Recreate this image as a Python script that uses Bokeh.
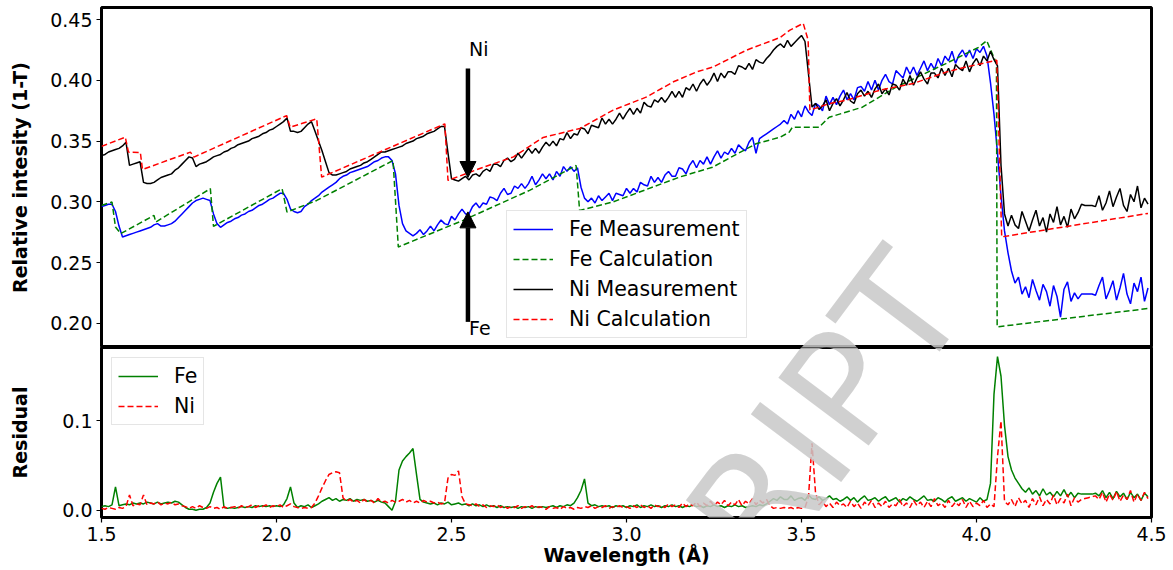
import numpy as np
from bokeh.plotting import figure
from bokeh.layouts import column
from bokeh.models import (Range1d, FixedTicker, PrintfTickFormatter, Legend,
                          LegendItem, Arrow, NormalHead, Label)
from bokeh.embed import file_html
from bokeh.resources import INLINE

# ---------------- data ----------------
# wavelength sampling of the measured spectra (Angstrom)
WL_START = 1.50
WL_STEP = 0.01
N_POINTS = 300
wavelength = np.round(WL_START + WL_STEP * np.arange(N_POINTS), 2)

# measured relative intensity (1-T), in units of 0.001, one row per 0.1 A
NI_MEAS_MILLI = [
    338, 339, 341, 342, 343, 344, 346, 349, 330, 331,
    332, 333, 316, 315, 315, 316, 318, 320, 321, 322,
    323, 326, 328, 331, 334, 337, 336, 329, 331, 332,
    333, 335, 337, 338, 339, 341, 342, 344, 345, 347,
    348, 349, 350, 352, 353, 354, 356, 357, 359, 360,
    362, 364, 366, 369, 358, 358, 357, 358, 361, 364,
    366, 358, 350, 342, 333, 324, 322, 322, 323, 324,
    325, 327, 328, 329, 330, 332, 333, 335, 337, 339,
    341, 341, 342, 343, 344, 345, 346, 348, 349, 350,
    352, 353, 354, 356, 357, 358, 360, 362, 362, 340,
    319, 318, 317, 319, 321, 318, 322, 323, 321, 325,
    327, 325, 331, 331, 329, 334, 336, 333, 335, 340,
    336, 340, 344, 340, 344, 340, 345, 349, 346, 350,
    346, 352, 351, 357, 352, 356, 355, 361, 360, 356,
    363, 362, 361, 369, 364, 368, 364, 368, 373, 368,
    373, 377, 372, 377, 373, 382, 379, 378, 384, 382,
    386, 382, 386, 391, 386, 391, 386, 394, 392, 397,
    391, 397, 401, 396, 400, 406, 399, 406, 402, 407,
    407, 405, 412, 411, 409, 414, 409, 417, 415, 414,
    418, 421, 425, 428, 430, 427, 433, 428, 431, 434,
    437, 432, 405, 378, 381, 376, 379, 384, 375, 381,
    385, 379, 384, 390, 383, 381, 389, 392, 387, 391,
    386, 393, 397, 389, 393, 388, 397, 396, 392, 401,
    396, 404, 396, 402, 407, 401, 397, 406, 406, 402,
    410, 404, 410, 403, 413, 410, 408, 416, 407, 414,
    418, 412, 420, 416, 424, 417, 412, 330, 290, 280,
    289, 281, 278, 292, 284, 276, 285, 293, 280, 287,
    275, 290, 283, 296, 281, 288, 279, 294, 286, 291,
    298, 297, 297, 297, 296, 305, 293, 299, 309, 296,
    304, 311, 297, 292, 306, 300, 313, 295, 303, 298,
]
FE_MEAS_MILLI = [
    296, 297, 298, 298, 292, 280, 271, 272, 273, 274,
    275, 276, 277, 278, 279, 281, 282, 280, 280, 281,
    282, 284, 287, 290, 293, 296, 299, 301, 302, 303,
    302, 301, 290, 282, 279, 281, 283, 284, 286, 287,
    289, 290, 292, 293, 295, 297, 298, 300, 302, 303,
    305, 307, 307, 302, 294, 292, 291, 292, 296, 298,
    301, 303, 305, 308, 310, 312, 314, 316, 319, 321,
    322, 324, 325, 326, 327, 328, 329, 331, 333, 334,
    336, 337, 337, 334, 323, 297, 282, 276, 274, 272,
    274, 277, 273, 276, 280, 276, 281, 285, 282, 281,
    288, 285, 290, 294, 290, 290, 296, 299, 295, 299,
    298, 304, 303, 301, 307, 311, 306, 307, 313, 311,
    315, 311, 315, 321, 314, 318, 323, 319, 323, 318,
    325, 321, 329, 325, 329, 325, 328, 312, 303, 300,
    303, 299, 305, 301, 304, 307, 301, 307, 306, 305,
    311, 307, 311, 308, 316, 314, 313, 321, 316, 320,
    316, 322, 325, 321, 321, 328, 327, 323, 330, 334,
    328, 334, 331, 337, 331, 337, 342, 336, 341, 339,
    344, 340, 347, 344, 342, 349, 353, 340, 352, 354,
    356, 358, 360, 362, 364, 367, 364, 372, 368, 375,
    370, 379, 374, 371, 381, 379, 375, 387, 380, 386,
    380, 387, 392, 384, 389, 384, 394, 395, 391, 399,
    392, 400, 392, 400, 405, 399, 397, 408, 405, 402,
    411, 405, 411, 404, 410, 416, 408, 414, 409, 418,
    412, 420, 416, 424, 414, 421, 425, 419, 425, 418,
    426, 423, 428, 420, 398, 372, 340, 305, 276, 258,
    243, 233, 238, 224, 230, 221, 236, 227, 219, 232,
    226, 214, 231, 222, 205, 228, 234, 218, 225, 220,
    224, 224, 224, 224, 223, 231, 238, 220, 227, 235,
    219, 229, 241, 224, 216, 233, 226, 238, 218, 229,
]

# residuals, in units of 0.001
FE_RES_MILLI = [
    4, 5, 4, 6, 26, 5, 6, 7, 6, 8,
    7, 8, 7, 9, 8, 7, 9, 7, 8, 9,
    8, 10, 9, 6, 3, 1, 1, 0, 1, 1,
    3, 8, 20, 30, 37, 3, 2, 3, 2, 3,
    4, 3, 4, 3, 5, 4, 5, 4, 5, 4,
    5, 4, 6, 13, 26, 8, 3, 5, 4, 6,
    3, 5, 7, 10, 12, 14, 11, 13, 10, 12,
    11, 13, 10, 12, 11, 12, 10, 11, 9, 11,
    9, 8, 4, 0, 10, 45, 55, 60, 64, 69,
    40, 12, 9, 8, 7, 8, 6, 8, 7, 9,
    6, 7, 8, 6, 7, 5, 7, 5, 6, 4,
    6, 4, 5, 3, 5, 3, 4, 3, 4, 2,
    4, 3, 4, 2, 4, 3, 4, 3, 4, 5,
    3, 5, 4, 6, 5, 8, 14, 22, 35, 8,
    5, 6, 4, 5, 4, 5, 3, 5, 4, 5,
    3, 5, 4, 6, 3, 5, 4, 6, 4, 5,
    3, 5, 4, 6, 4, 5, 3, 5, 4, 6,
    4, 5, 3, 5, 4, 6, 4, 5, 3, 5,
    4, 6, 4, 5, 3, 4, 5, 4, 6, 5,
    7, 10, 13, 11, 15, 12, 12, 16, 11, 13,
    14, 11, 17, 13, 12, 15, 11, 13, 16, 12,
    13, 10, 12, 15, 11, 14, 9, 13, 16, 11,
    12, 14, 10, 13, 15, 10, 12, 14, 9, 13,
    11, 15, 12, 10, 13, 16, 11, 12, 10, 14,
    12, 9, 13, 15, 10, 12, 14, 10, 13, 11,
    9, 14, 10, 12, 30, 130, 172, 150, 95, 60,
    45, 36, 30, 24, 20, 25, 18, 22, 16, 24,
    17, 20, 15, 21, 16, 23, 15, 20, 14, 19,
    18, 18, 18, 18, 19, 16, 22, 14, 20, 13,
    21, 15, 19, 12, 20, 14, 18, 11, 19, 15,
]
NI_RES_MILLI = [
    2, 1, 3, 2, 1, 3, 2, 4, 17, 5,
    7, 6, 17, 6, 8, 7, 9, 6, 8, 7,
    9, 6, 7, 5, 4, 2, 4, 2, 5, 3,
    2, 4, 2, 3, 1, 4, 2, 3, 4, 2,
    5, 3, 4, 6, 3, 5, 4, 6, 3, 5,
    4, 6, 3, 5, 7, 4, 3, 2, 3, 2,
    3, 8, 16, 25, 33, 40, 42, 43, 42, 14,
    10, 12, 9, 11, 8, 12, 9, 11, 8, 13,
    9, 10, 8, 11, 9, 10, 12, 9, 11, 8,
    10, 8, 11, 9, 10, 8, 9, 7, 8, 36,
    40, 39, 44, 15, 7, 6, 5, 7, 4, 6,
    3, 5, 4, 6, 3, 5, 2, 4, 3, 5,
    2, 4, 3, 5, 2, 4, 3, 1, 4, 2,
    3, 1, 4, 2, 3, 1, 3, 2, 4, 3,
    5, 2, 4, 3, 5, 2, 4, 3, 5, 3,
    4, 2, 5, 3, 6, 3, 5, 2, 6, 4,
    5, 3, 7, 4, 6, 3, 8, 4, 7, 5,
    9, 4, 8, 5, 10, 5, 9, 6, 11, 5,
    9, 6, 12, 5, 10, 7, 13, 6, 11, 8,
    12, 5, 2, 3, 2, 3, 2, 3, 1, 3,
    2, 3, 15, 75, 20, 6, 10, 4, 8, 3,
    9, 5, 7, 3, 10, 4, 8, 2, 9, 5,
    11, 3, 8, 4, 10, 3, 7, 5, 12, 4,
    8, 3, 11, 5, 9, 3, 10, 4, 13, 5,
    8, 3, 11, 4, 9, 5, 12, 3, 10, 4,
    8, 5, 11, 3, 7, 4, 60, 100, 10, 6,
    12, 4, 14, 7, 11, 3, 13, 6, 15, 5,
    12, 7, 17, 6, 13, 8, 18, 5, 14, 9,
    12, 13, 14, 15, 16, 12, 20, 9, 18, 11,
    21, 10, 17, 12, 22, 9, 18, 11, 20, 13,
]

# calculated curves (piecewise)
FE_CALC_WL = [1.500, 1.530, 1.540, 1.555, 1.650, 1.655, 1.811, 1.820, 2.016, 2.030,
              2.115, 2.333, 2.348, 2.533, 2.723, 2.856, 2.866, 2.961, 3.151, 3.246,
              3.370, 3.439, 3.465, 3.474, 3.550, 3.579, 3.674, 3.769, 3.911, 4.006,
              4.029, 4.057, 4.059, 4.490]
FE_CALC = [0.2970, 0.2998, 0.2792, 0.2738, 0.2888, 0.2833, 0.3108, 0.2798, 0.3108, 0.2915,
           0.3011, 0.3340, 0.2628, 0.2847, 0.3094, 0.3299, 0.2929, 0.2998, 0.3203, 0.3285,
           0.3478, 0.3532, 0.3573, 0.3614, 0.3614, 0.3696, 0.3779, 0.3943, 0.4136, 0.4272,
           0.4327, 0.4139, 0.1970, 0.2121]
NI_CALC_WL = [1.500, 1.568, 1.577, 1.611, 1.617, 1.754, 1.764, 2.029, 2.039, 2.115,
              2.129, 2.481, 2.490, 2.581, 2.677, 2.762, 2.867, 2.962, 3.058, 3.134,
              3.201, 3.248, 3.343, 3.439, 3.467, 3.505, 3.519, 3.524, 3.581, 3.629,
              3.724, 3.819, 3.915, 3.972, 4.058, 4.072, 4.490]
NI_CALC = [0.3456, 0.3532, 0.3409, 0.3406, 0.3266, 0.3409, 0.3368, 0.3710, 0.3614, 0.3683,
           0.3203, 0.3642, 0.3176, 0.3274, 0.3370, 0.3530, 0.3604, 0.3755, 0.3864, 0.3988,
           0.4070, 0.4111, 0.4249, 0.4353, 0.4414, 0.4469, 0.4331, 0.3755, 0.3810, 0.3837,
           0.3919, 0.3974, 0.4070, 0.4111, 0.4166, 0.2711, 0.2904]

# axes / ticks
X_TICKS = [1.5, 2.0, 2.5, 3.0, 3.5, 4.0, 4.5]
TOP_Y_TICKS = [0.20, 0.25, 0.30, 0.35, 0.40, 0.45]
RES_Y_TICKS = [0.0, 0.1]

# edge annotations: (wavelength, arrow start, arrow tip, label y)
NI_EDGE = (2.547, 0.4098, 0.3200, 0.4262)
FE_EDGE = (2.547, 0.2011, 0.2917, 0.1960)

ni_meas = np.array(NI_MEAS_MILLI) / 1000.0
fe_meas = np.array(FE_MEAS_MILLI) / 1000.0
fe_res = np.array(FE_RES_MILLI) / 1000.0
ni_res = np.array(NI_RES_MILLI) / 1000.0

FONT = "DejaVu Sans"
FS = "19px"
DASH = "6 3"


def style(p):
    p.background_fill_color = "white"
    p.border_fill_color = "white"
    p.outline_line_color = "black"
    p.outline_line_width = 3
    p.outline_line_alpha = 1.0
    p.xgrid.grid_line_color = None
    p.ygrid.grid_line_color = None
    for ax in (p.xaxis + p.yaxis):
        ax.axis_line_color = None
        ax.major_tick_in = 0
        ax.major_tick_out = 5
        ax.major_tick_line_width = 1.2
        ax.minor_tick_line_color = None
        ax.major_label_text_font = FONT
        ax.major_label_text_font_size = FS
        ax.major_label_text_color = "black"
        ax.major_label_standoff = 4
        ax.axis_label_text_font = FONT
        ax.axis_label_text_font_size = FS
        ax.axis_label_text_font_style = "bold"
        ax.axis_label_text_color = "black"


# ---------------- top panel ----------------
top = figure(frame_width=1050, frame_height=340,
             x_range=Range1d(1.5, 4.5), y_range=Range1d(0.180, 0.460),
             min_border_left=101, min_border_right=22, min_border_top=7,
             min_border_bottom=0, output_backend="svg", toolbar_location=None)
style(top)
top.xaxis.visible = False
top.yaxis.ticker = FixedTicker(ticks=TOP_Y_TICKS)
top.yaxis.formatter = PrintfTickFormatter(format="%.2f")
top.yaxis.axis_label = "Relative intesity (1-T)"
top.yaxis.axis_label_standoff = 16

r_fe_m = top.line(wavelength, fe_meas, line_color="#0000ff", line_width=1.5)
r_fe_c = top.line(FE_CALC_WL, FE_CALC, line_color="#008000", line_width=1.5, line_dash=DASH)
r_ni_m = top.line(wavelength, ni_meas, line_color="black", line_width=1.5)
r_ni_c = top.line(NI_CALC_WL, NI_CALC, line_color="#ff0000", line_width=1.5, line_dash=DASH)

for (wl, y0, y1, ly), txt in ((NI_EDGE, "Ni"), (FE_EDGE, "Fe")):
    top.add_layout(Arrow(end=NormalHead(size=16, fill_color="black", line_color="black"),
                         x_start=wl, y_start=y0, x_end=wl, y_end=y1,
                         line_width=4.5, line_color="black"))
    top.add_layout(Label(x=wl + 0.003, y=ly, text=txt, text_font=FONT,
                         text_font_size=FS, text_color="black",
                         text_baseline="alphabetic"))

leg_top = Legend(items=[LegendItem(label="Fe Measurement", renderers=[r_fe_m]),
                        LegendItem(label="Fe Calculation", renderers=[r_fe_c]),
                        LegendItem(label="Ni Measurement", renderers=[r_ni_m]),
                        LegendItem(label="Ni Calculation", renderers=[r_ni_c])],
                 location=(405, 9))
top.add_layout(leg_top)

# ---------------- residual panel ----------------
bot = figure(frame_width=1050, frame_height=170,
             x_range=Range1d(1.5, 4.5), y_range=Range1d(-0.0082, 0.1822),
             min_border_left=101, min_border_right=22, min_border_top=0,
             min_border_bottom=53, output_backend="svg", toolbar_location=None)
style(bot)
bot.xaxis.ticker = FixedTicker(ticks=X_TICKS)
bot.xaxis.formatter = PrintfTickFormatter(format="%.1f")
bot.xaxis.axis_label = "Wavelength (Å)"
bot.xaxis.axis_label_standoff = 0
bot.yaxis.ticker = FixedTicker(ticks=RES_Y_TICKS)
bot.yaxis.formatter = PrintfTickFormatter(format="%.1f")
bot.yaxis.axis_label = "Residual"
bot.yaxis.axis_label_standoff = 28

r_fe_r = bot.line(wavelength, fe_res, line_color="#008000", line_width=1.5)
r_ni_r = bot.line(wavelength, ni_res, line_color="#ff0000", line_width=1.5, line_dash=DASH)
leg_bot = Legend(items=[LegendItem(label="Fe", renderers=[r_fe_r]),
                        LegendItem(label="Ni", renderers=[r_ni_r])],
                 location=(10, 92))
bot.add_layout(leg_bot)

for lg in (leg_top, leg_bot):
    lg.label_text_font = FONT
    lg.label_text_font_size = "20.5px"
    lg.label_text_color = "black"
    lg.glyph_width = 40
    lg.glyph_height = 20
    lg.label_height = 20
    lg.label_standoff = 16
    lg.spacing = 6
    lg.padding = 6
    lg.margin = 0
    lg.border_line_color = "#cccccc"
    lg.border_line_width = 1
    lg.background_fill_alpha = 0.8

# watermark: centred text, same pixel position in both panels
WM_X = 3.3957
for p, wy in ((top, 0.0591), (bot, 0.0179)):
    p.add_layout(Label(x=WM_X, y=wy, text="SCRIPT", angle=np.deg2rad(53),
                       text_align="center", text_baseline="middle",
                       text_font=FONT, text_font_size="155px",
                       text_color="#c8c8c8", text_alpha=0.85))

layout = column(top, bot, spacing=0)
open("out.html", "w").write(file_html(layout, INLINE))
